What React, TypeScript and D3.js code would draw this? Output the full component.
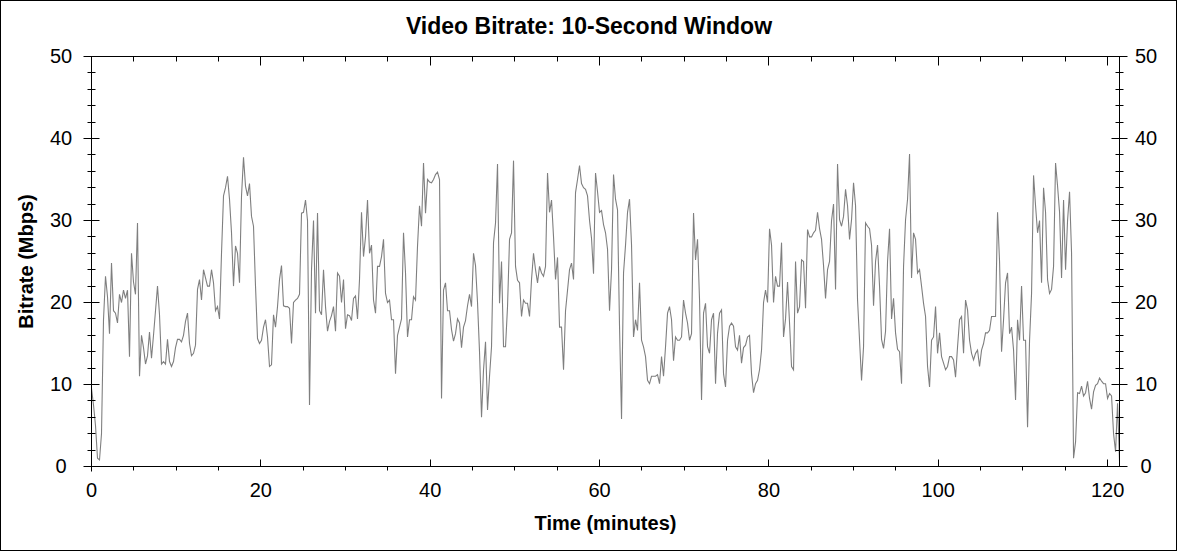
import { useEffect, useRef } from 'react';
import * as d3 from 'd3';

// one reading every ~0.236 min (2 px in the source chart)
const STEP_MINUTES = 0.2362;

const bitrateMbps: number[] = [
  // 0 - 15 min
  9.5, 7.5, 5, 1.0, 0.8, 4, 17.9, 23.2, 20.7, 16.2, 24.8, 19, 18.7, 17.5, 21, 20,
  21.5, 20.5, 21.5, 13.4, 26, 22.5, 21, 29.7, 11, 16, 14.5, 12.5, 13.5, 16.4, 13.2, 16,
  19, 22, 18.5, 12.5, 12.8, 12.5, 15.5, 12.8, 12.2, 12.8, 14.5, 15.5, 15.5, 15.2, 16, 17.7,
  18.7, 15, 13.5, 13.8, 14.8, 21.6, 22.8, 20.3, 24, 23, 22, 22, 24, 22.4, 19, 19.5,
  // 15 - 30 min
  18, 26, 33, 34, 35.4, 32.6, 28.5, 22, 26.9, 26, 22.4, 33, 37.7, 34.2, 33, 34.5,
  30.5, 29.3, 22, 15.6, 15, 15.4, 17, 17.9, 15.8, 12.2, 12.4, 18.5, 17, 19.5, 22.8, 24.5,
  19.6, 19.5, 19.5, 19.3, 15, 20, 20.3, 20.5, 21, 30.9, 31, 32.5, 30, 7.5, 24, 30,
  18.7, 30.9, 19, 18.5, 24, 19.5, 16.5, 17.7, 18.4, 19.5, 16.5, 23.6, 23.2, 20, 22.8, 16.8,
  18.5,
  // 30 - 46 min
  18.4, 17.8, 20.5, 20.8, 18, 22.8, 31, 25.6, 28, 32.5, 26, 27, 20.3, 18.7, 24.4, 24.4,
  25.6, 27.7, 21.1, 20, 20.3, 17.9, 17.9, 11.3, 16, 17, 18, 28.5, 23.6, 15.8, 17.9, 17.9,
  20.7, 20.3, 26.9, 31.8, 29.3, 37, 30.9, 35, 34.7, 34.6, 35, 35.6, 35.9, 35, 8.3, 21.5,
  22.4, 19, 19, 16.7, 15.3, 16.2, 18, 17.5, 14.5, 17, 17.8, 19.6, 21, 19.5, 26, 24.5,
  20,
  // 46 - 61 min
  14, 6, 11.8, 15.2, 6.9, 11, 14.6, 27.3, 29.7, 36.9, 19.9, 25, 14.6, 14.6, 19.5, 27.7,
  28.5, 37.3, 24.4, 22.7, 22.4, 18.3, 20.3, 19.9, 19.9, 18.3, 22.8, 26, 24, 22.4, 24.4, 23.6,
  23.2, 24.4, 35.8, 31, 32.5, 28, 22.8, 25.5, 17, 17, 11.8, 19, 21.5, 24, 24.8, 22.8,
  33.4, 35, 36.7, 34.5, 34, 33.8, 33, 30, 27.8, 23.5, 35.8, 33.5, 31, 31.2, 29.5, 28.5,
  26.5,
  // 61 - 76 min
  19, 24, 35.6, 32.6, 31.3, 17.1, 5.8, 23.6, 27, 31, 32.6, 27, 15.8, 17.9, 16.6, 22.4,
  15.4, 14.6, 13.4, 10.5, 10.1, 11, 11, 11, 11.2, 10.1, 13.4, 11, 14.6, 18.7, 19.5, 17.9,
  12.9, 15.8, 15.4, 15.4, 15.8, 20.3, 18.7, 17.5, 15.4, 16.2, 30.9, 25.2, 27.7, 20.3, 8.1, 18.7,
  19.9, 14.6, 13.8, 17.9, 18.7, 10.1, 16.3, 18.7, 19.1, 11.3, 9.7, 15.4, 17.1, 17.5, 17.1, 14.6,
  14.2,
  // 76 - 92 min
  16, 12.6, 14.5, 14.8, 15.8, 16, 11.3, 9, 10.1, 10.5, 11.8, 14.2, 20, 21.5, 20, 29,
  27, 20, 23.2, 22, 22, 27.3, 15.8, 18, 22.5, 17.5, 12.2, 11.8, 25, 18.7, 19.5, 25.2,
  25, 19.3, 28.9, 28, 28, 28.5, 28.8, 31, 29, 27.7, 24.5, 20.5, 24, 25, 30, 32,
  21.6, 36.9, 30.1, 29.3, 30.5, 33.8, 31.8, 27.7, 30.1, 34.6, 31.8, 20.3, 15.4, 10.5, 14.6, 29.7,
  29.3,
  // 92 - 107 min
  29, 27, 19.6, 25, 27, 22, 15.5, 14.4, 16.5, 25, 29, 18, 20.5, 16.3, 14.3, 14,
  10.1, 24.4, 30.1, 32.6, 38.1, 23, 28.5, 27.7, 23.6, 24, 22, 19.9, 18.3, 12.2, 9.7, 15.4,
  15.8, 19.5, 13.8, 16.3, 13.4, 12.6, 11.8, 12.2, 13.4, 13.4, 13, 10.9, 14.6, 17.9, 18.3, 13.8,
  20.3, 19.1, 15.4, 13.8, 13, 13.8, 14.2, 12.2, 14.2, 15, 16.3, 16.3, 16.6, 18.3, 18.3, 18.3,
  31,
  // 107 - 121.4 min
  25, 14, 17.9, 22.4, 23.6, 16.2, 17, 14.2, 8.1, 17.9, 15.4, 22, 15.4, 15.4, 4.8, 15.4,
  21.1, 35.5, 31.8, 28.5, 30, 22.4, 34, 31, 22.8, 21.1, 21.6, 24.4, 37, 34.2, 31, 23,
  32.5, 24, 30, 33.5, 26, 1.0, 3, 9, 8.9, 9.8, 8.6, 9, 10.4, 8.3, 7, 9.1,
  9.9, 10.1, 10.8, 10.4, 10.1, 10.1, 8.3, 8.9, 8.6, 4, 1.8, 7.7, 0.5,
];

const xMajorTicks = [0, 20, 40, 60, 80, 100, 120];
const yMajorTicks = [0, 10, 20, 30, 40, 50];
const X_MAX = 121.4;
const Y_MAX = 50;

const chartTitle = 'Video Bitrate: 10-Second Window';
const xLabel = 'Time (minutes)';
const yLabel = 'Bitrate (Mbps)';

const FONT = "'Liberation Sans', Arial, sans-serif";

const BitrateChart = ({ width = 1178, height = 552 }: { width?: number; height?: number }) => {
  const svgRef = useRef<SVGSVGElement>(null);

  useEffect(() => {
    if (!svgRef.current) return;
    const svg = d3.select(svgRef.current);
    svg.selectAll('*').remove();

    const left = 91.5, right = 1119.5, top = 56.5, bottom = 466.5;

    const x = d3.scaleLinear().domain([0, X_MAX]).range([left, right]);
    const y = d3.scaleLinear().domain([0, Y_MAX]).range([bottom, top]);

    // outer border
    svg.append('rect')
      .attr('x', 0.5).attr('y', 0.5)
      .attr('width', width - 2).attr('height', height - 2)
      .attr('fill', '#fff')
      .attr('stroke', '#000');

    // data line
    svg.append('clipPath').attr('id', 'plot-clip')
      .append('rect')
      .attr('x', left).attr('y', top)
      .attr('width', right - left).attr('height', bottom - top);

    const line = d3.line<number>()
      .x((_, i) => x(i * STEP_MINUTES))
      .y(d => y(d));

    svg.append('path')
      .datum(bitrateMbps)
      .attr('clip-path', 'url(#plot-clip)')
      .attr('fill', 'none')
      .attr('stroke', '#7f7f7f')
      .attr('stroke-width', 1.1)
      .attr('stroke-linejoin', 'miter')
      .attr('d', line);

    // plot frame
    svg.append('rect')
      .attr('x', left).attr('y', top)
      .attr('width', right - left).attr('height', bottom - top)
      .attr('fill', 'none')
      .attr('stroke', '#000');

    const ticks = svg.append('g').attr('stroke', '#000').attr('stroke-width', 1);
    const snap = (v: number) => Math.round(v - 0.5) + 0.5;

    // y ticks on both sides
    const yMinor = d3.range(0, Y_MAX + 1, 2).filter(v => v % 10 !== 0);
    yMajorTicks.forEach(v => {
      const yy = snap(y(v));
      ticks.append('line').attr('x1', left - 8).attr('x2', left + 8).attr('y1', yy).attr('y2', yy);
      ticks.append('line').attr('x1', right - 8).attr('x2', right + 8).attr('y1', yy).attr('y2', yy);
    });
    yMinor.forEach(v => {
      const yy = snap(y(v));
      ticks.append('line').attr('x1', left - 4).attr('x2', left + 4).attr('y1', yy).attr('y2', yy);
      ticks.append('line').attr('x1', right - 4).attr('x2', right + 4).attr('y1', yy).attr('y2', yy);
    });

    // x ticks: majors inward, minors outward at the bottom; both inward at the top
    const xMinor = d3.range(5, X_MAX, 5).filter(v => v % 20 !== 0);
    xMajorTicks.forEach(v => {
      const xx = snap(x(v));
      ticks.append('line').attr('x1', xx).attr('x2', xx).attr('y1', bottom - 7).attr('y2', bottom);
      ticks.append('line').attr('x1', xx).attr('x2', xx).attr('y1', top).attr('y2', top + 9);
    });
    ticks.append('line').attr('x1', left).attr('x2', left).attr('y1', bottom).attr('y2', bottom + 5);
    xMinor.forEach(v => {
      const xx = snap(x(v));
      ticks.append('line').attr('x1', xx).attr('x2', xx).attr('y1', bottom).attr('y2', bottom + 4);
      ticks.append('line').attr('x1', xx).attr('x2', xx).attr('y1', top).attr('y2', top + 5);
    });

    // tick labels
    const labels = svg.append('g')
      .style('font-family', FONT)
      .style('font-size', '20px')
      .attr('fill', '#000')
      .attr('text-anchor', 'middle');

    yMajorTicks.forEach(v => {
      labels.append('text').attr('x', 61).attr('y', y(v) + 6.5).text(v);
      labels.append('text').attr('x', 1146).attr('y', y(v) + 6.5).text(v);
    });
    xMajorTicks.forEach(v => {
      labels.append('text').attr('x', x(v)).attr('y', 497).text(v);
    });

    // titles
    svg.append('text')
      .attr('x', 589).attr('y', 34)
      .attr('text-anchor', 'middle')
      .style('font-family', FONT)
      .style('font-size', '23px')
      .style('font-weight', 'bold')
      .text(chartTitle);

    svg.append('text')
      .attr('x', (left + right) / 2).attr('y', 530)
      .attr('text-anchor', 'middle')
      .style('font-family', FONT)
      .style('font-size', '20px')
      .style('font-weight', 'bold')
      .text(xLabel);

    svg.append('text')
      .attr('transform', `translate(33,${(top + bottom) / 2}) rotate(-90)`)
      .attr('text-anchor', 'middle')
      .style('font-family', FONT)
      .style('font-size', '20px')
      .style('font-weight', 'bold')
      .text(yLabel);
  }, [width, height]);

  return (
    <svg
      ref={svgRef}
      width={width}
      height={height}
      style={{ position: 'absolute', left: 0, top: 0, background: '#fff' }}
    />
  );
};

export default function App() {
  return <BitrateChart />;
}
